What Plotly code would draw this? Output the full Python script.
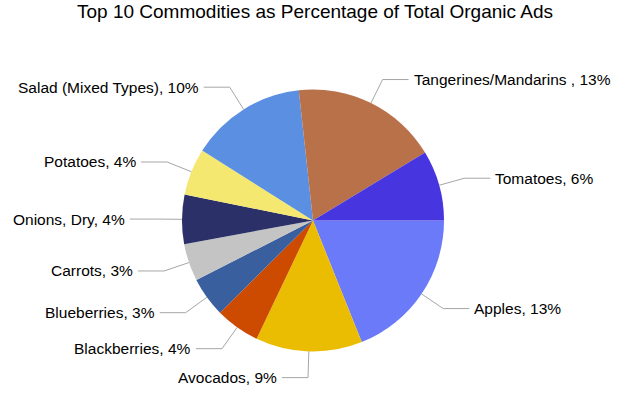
import math
import plotly.graph_objects as go

# ---- data ----
categories = ["Apples", "Avocados", "Blackberries", "Blueberries", "Carrots",
              "Onions, Dry", "Potatoes", "Salad (Mixed Types)",
              "Tangerines/Mandarins ", "Tomatoes"]
values = [13.1, 9.1, 3.8, 3.4, 3.2, 4.2, 4.0, 9.9, 12.5, 6.0]
pct_labels = [13, 9, 4, 3, 3, 4, 4, 10, 13, 6]
colors = ["#6B7AF8", "#EBBD02", "#CC4B00", "#3A5F9E", "#C4C4C4",
          "#2B3068", "#F5E870", "#5A8FE2", "#B9714A", "#4735E0"]
title_text = "Top 10 Commodities as Percentage of Total Organic Ads"

# ---- layout geometry (pixels) ----
W, H = 625, 394
CX, CY, R = 313, 220.5, 131
ELBOW = 1.2 * R
HSEG = 26
GAP = 3
FONT = "Liberation Sans, Arial, sans-serif"


def px(x):
    return x / W


def py(y):
    return 1 - y / H


fig = go.Figure()
fig.add_trace(go.Pie(
    labels=categories,
    values=values,
    sort=False,
    direction="clockwise",
    rotation=90,
    marker=dict(colors=colors, line=dict(width=0)),
    textinfo="none",
    hoverinfo="label+percent",
    showlegend=False,
    domain=dict(x=[px(CX - R), px(CX + R)], y=[py(CY + R), py(CY - R)]),
))

shapes = []
annotations = []
total = sum(values)
cum = 0.0
for name, v, p in zip(categories, values, pct_labels):
    mid = (cum + v / 2) / total * 2 * math.pi
    cum += v
    c, s = math.cos(mid), math.sin(mid)
    x0, y0 = CX + R * c, CY + R * s
    x1, y1 = CX + ELBOW * c, CY + ELBOW * s
    side = 1 if c >= 0 else -1
    x2 = x1 + side * HSEG
    line = dict(color="#A6A6A6", width=1)
    shapes.append(dict(type="line", xref="paper", yref="paper",
                       x0=px(x0), y0=py(y0), x1=px(x1), y1=py(y1), line=line))
    shapes.append(dict(type="line", xref="paper", yref="paper",
                       x0=px(x1), y0=py(y1), x1=px(x2), y1=py(y1), line=line))
    annotations.append(dict(
        x=px(x2 + side * GAP), y=py(y1), xref="paper", yref="paper",
        text=f"{name}, {p}%", showarrow=False,
        xanchor="left" if side > 0 else "right", yanchor="middle",
        font=dict(family=FONT, size=15.5, color="#000000")))

annotations.append(dict(
    x=px(314.6), y=py(11.5), xref="paper", yref="paper", text=title_text,
    showarrow=False, xanchor="center", yanchor="middle",
    font=dict(family=FONT, size=19, color="#000000")))

fig.update_layout(
    width=W, height=H,
    margin=dict(l=0, r=0, t=0, b=0),
    paper_bgcolor="white", plot_bgcolor="white",
    shapes=shapes, annotations=annotations,
)

fig.write_html("out.html",
               config={"displayModeBar": False},
               post_script="document.body.style.margin='0';document.body.style.padding='0';")
